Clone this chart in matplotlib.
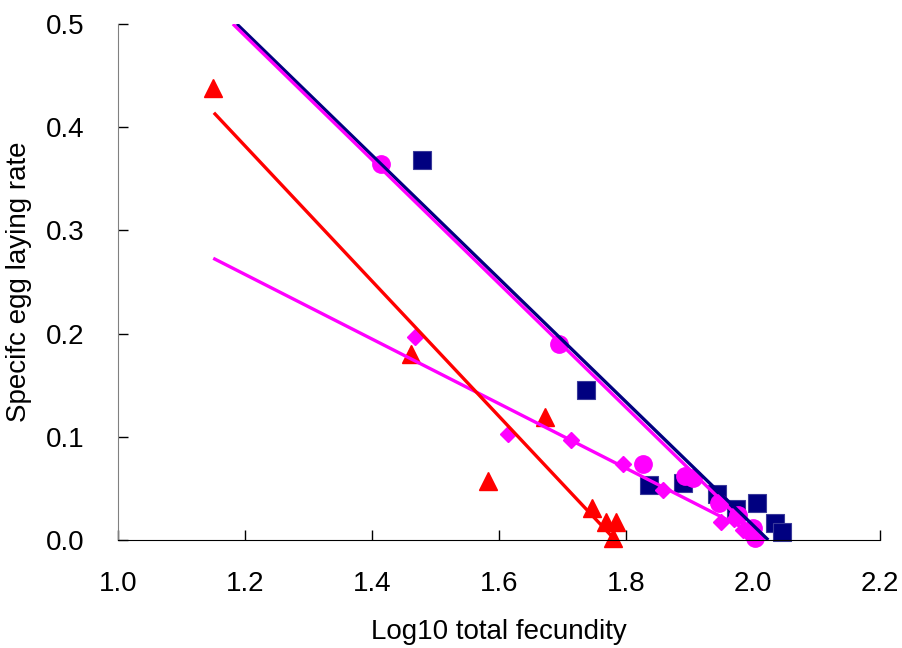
import matplotlib
matplotlib.use('Agg')
import matplotlib.pyplot as plt

# navy squares
sq_x = [1.479, 1.737, 1.837, 1.889, 1.943, 1.974, 2.006, 2.035, 2.045]
sq_y = [0.368, 0.145, 0.053, 0.055, 0.045, 0.030, 0.036, 0.016, 0.008]
sq_line_x = [1.187, 2.024]
sq_line_y = [0.5, 0.0]

# magenta circles
ci_x = [1.414, 1.694, 1.826, 1.893, 1.905, 1.947, 1.976, 2.000, 2.003]
ci_y = [0.364, 0.190, 0.074, 0.062, 0.060, 0.036, 0.024, 0.012, 0.002]
ci_line_x = [1.181, 2.014]
ci_line_y = [0.5, 0.0]

# magenta diamonds
di_x = [1.468, 1.614, 1.714, 1.796, 1.858, 1.950, 1.970, 1.985, 1.995]
di_y = [0.197, 0.103, 0.097, 0.074, 0.048, 0.017, 0.020, 0.010, 0.005]
di_line_x = [1.150, 2.006]
di_line_y = [0.273, 0.005]

# red triangles
tr_x = [1.150, 1.461, 1.583, 1.672, 1.746, 1.768, 1.785, 1.779]
tr_y = [0.438, 0.180, 0.057, 0.119, 0.031, 0.017, 0.017, 0.002]
tr_line_x = [1.151, 1.783]
tr_line_y = [0.414, 0.0]

xticks = [1.0, 1.2, 1.4, 1.6, 1.8, 2.0, 2.2]
yticks = [0.0, 0.1, 0.2, 0.3, 0.4, 0.5]

plt.rcParams['font.family'] = ['Liberation Sans', 'DejaVu Sans']

fig = plt.figure(figsize=(9.02, 6.48), dpi=100)
ax = fig.add_axes([118/902, 108/648, 762/902, 516/648])

navy = '#000080'
mag = '#FF00FF'
red = '#FF0000'

ax.plot(sq_x, sq_y, 's', ms=12.5, color=navy, mec='#3a3a9a', mew=0.8, ls='none', zorder=2, clip_on=False)
ax.plot(ci_x, ci_y, 'o', ms=12.5, color=mag, mec=mag, ls='none', zorder=2, clip_on=False)
ax.plot(di_x, di_y, 'D', ms=8.5, color=mag, mec=mag, ls='none', zorder=2, clip_on=False)
ax.plot(tr_x, tr_y, '^', ms=12.5, color=red, mec=red, ls='none', zorder=2, clip_on=False)

ax.plot(sq_line_x, sq_line_y, color=navy, lw=2.4, zorder=3, solid_capstyle='butt')
ax.plot(ci_line_x, ci_line_y, color=mag, lw=2.4, zorder=3, solid_capstyle='butt')
ax.plot(di_line_x, di_line_y, color=mag, lw=2.4, zorder=3, solid_capstyle='butt')
ax.plot(tr_line_x, tr_line_y, color=red, lw=2.4, zorder=3, solid_capstyle='butt')

ax.set_xlim(1.0, 2.2)
ax.set_ylim(0.0, 0.5)
ax.set_xticks(xticks)
ax.set_yticks(yticks)
ax.set_xticklabels(['%.1f' % v for v in xticks], fontsize=20)
ax.set_yticklabels(['%.1f' % v for v in yticks], fontsize=20)
ax.tick_params(direction='in', length=7, width=1)
ax.tick_params(axis='x', pad=22)
ax.tick_params(axis='y', pad=24)

ax.spines['top'].set_visible(False)
ax.spines['right'].set_visible(False)
ax.spines['left'].set_color('#808080')
ax.spines['bottom'].set_color('black')

ax.set_xlabel('Log10 total fecundity', fontsize=20, labelpad=16)
ax.set_ylabel('Specifc egg laying rate', fontsize=20, labelpad=10)

fig.savefig('out.png', dpi=100)
